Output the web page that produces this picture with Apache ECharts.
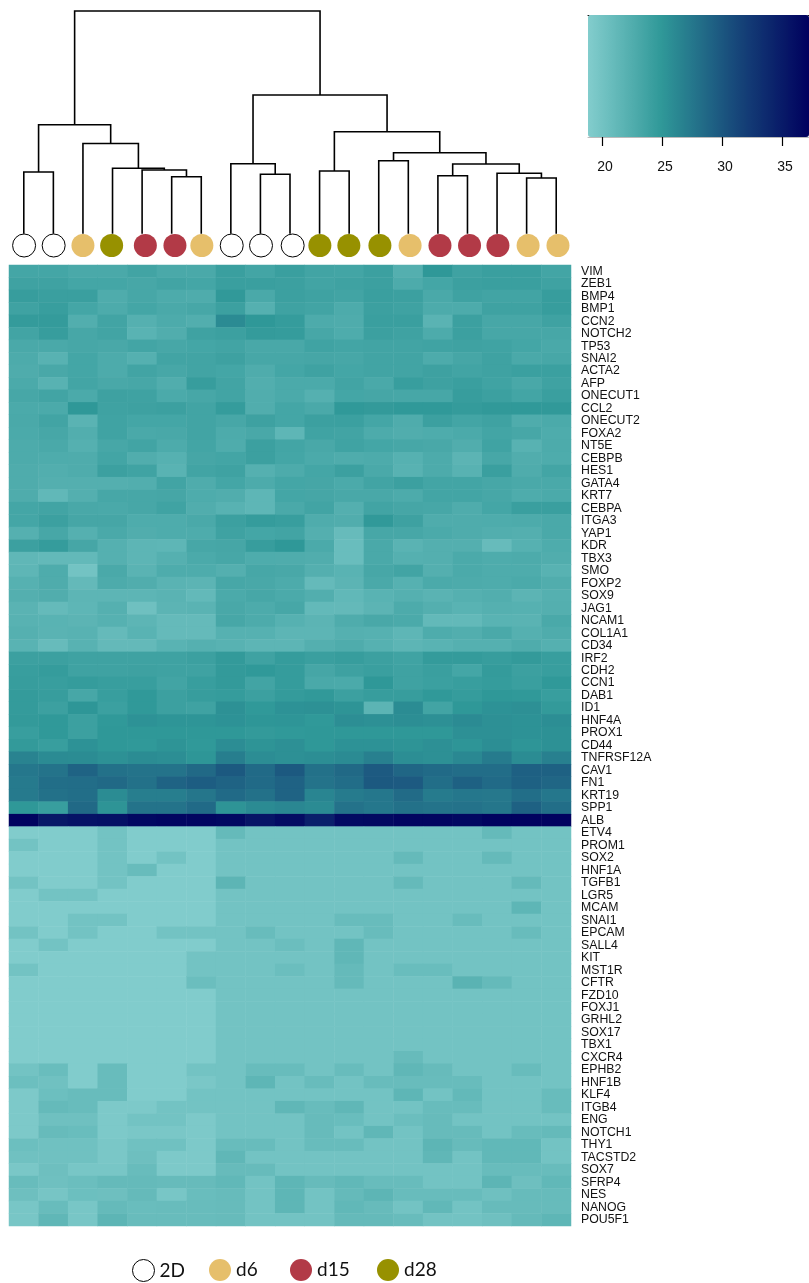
<!DOCTYPE html>
<html><head><meta charset="utf-8">
<style>html,body{margin:0;padding:0;background:#fff;overflow:hidden}#c{width:809px;height:1283px}</style>
<script src="https://cdn.jsdelivr.net/npm/echarts@6/dist/echarts.min.js"></script>
</head><body><div id="c"></div>
<script>
const genes=["VIM","ZEB1","BMP4","BMP1","CCN2","NOTCH2","TP53","SNAI2","ACTA2","AFP","ONECUT1","CCL2","ONECUT2","FOXA2","NT5E","CEBPB","HES1","GATA4","KRT7","CEBPA","ITGA3","YAP1","KDR","TBX3","SMO","FOXP2","SOX9","JAG1","NCAM1","COL1A1","CD34","IRF2","CDH2","CCN1","DAB1","ID1","HNF4A","PROX1","CD44","TNFRSF12A","CAV1","FN1","KRT19","SPP1","ALB","ETV4","PROM1","SOX2","HNF1A","TGFB1","LGR5","MCAM","SNAI1","EPCAM","SALL4","KIT","MST1R","CFTR","FZD10","FOXJ1","GRHL2","SOX17","TBX1","CXCR4","EPHB2","HNF1B","KLF4","ITGB4","ENG","NOTCH1","THY1","TACSTD2","SOX7","SFRP4","NES","NANOG","POU5F1"];
const sampleGroups=["2D","2D","d6","d28","d15","d15","d6","2D","2D","2D","d28","d28","d28","d6","d15","d15","d15","d6","d6"];
const groupNames=["2D","d6","d15","d28"];
const groupColors=["#ffffff","#E6BF6B","#B23A47","#979100"];
const leafPositions=[0.51,1.51,2.5,3.47,4.61,5.61,6.52,7.53,8.52,9.59,10.51,11.49,12.54,13.56,14.57,15.57,16.53,17.55,18.56];
const mergeLeft=[0,5,4,3,2,19,8,7,10,12,14,17,16,29,28,27,26,24];
const mergeRight=[1,6,20,21,22,23,9,25,11,13,15,18,30,31,32,33,34,35];
const mergeHeight=[61,56.3,63,64.7,89.5,108.3,58.7,69.3,62,72.3,57.3,55,59.7,69,80.3,101.3,138,222];
const colorTicks=[20,25,30,35];
const colorRange=[18.83,37.25];
const colorStops=["#83cdcd","#2f9898","#17487a","#00005e"];
const legendLeft=[132,209,290,377];
const expr=[
[23.4,23.4,23.0,23.0,23.6,23.0,23.0,24.2,23.5,24.2,23.6,23.5,24.0,22.3,25.0,23.8,24.2,24.2,23.5],
[23.8,23.8,23.4,23.4,23.2,23.6,23.4,24.2,24.2,24.0,23.6,23.8,24.0,22.8,23.4,24.0,24.2,24.2,23.8],
[24.4,24.2,24.2,22.6,23.2,22.8,22.6,24.8,23.0,24.0,23.8,23.6,24.2,24.0,23.0,23.8,23.6,23.6,24.4],
[23.8,24.3,23.4,22.8,23.4,23.0,23.2,24.0,22.2,23.8,23.6,22.8,24.0,23.8,22.8,22.8,23.8,23.8,24.4],
[24.6,24.6,22.4,23.6,22.2,22.8,22.4,26.0,25.0,24.5,22.8,22.6,24.2,24.2,21.8,24.0,23.2,23.2,23.8],
[23.6,24.4,23.2,23.6,21.9,22.5,23.8,24.0,24.6,24.5,23.2,22.7,24.0,23.8,22.8,24.0,23.2,23.2,23.2],
[23.0,23.0,23.2,23.1,23.5,23.2,23.4,23.6,23.1,23.1,23.7,23.5,23.6,23.6,23.7,23.8,23.7,23.4,23.0],
[22.8,22.0,23.4,22.8,22.2,23.6,23.6,23.9,23.2,23.2,23.3,23.2,23.6,23.6,22.8,23.3,23.8,23.0,23.2],
[22.6,23.1,23.4,22.8,23.6,23.2,23.6,23.4,22.6,23.4,23.8,23.4,23.6,23.6,23.9,23.6,23.8,24.1,24.1],
[22.9,22.0,23.5,23.1,23.2,22.5,24.4,23.6,22.4,22.9,22.9,23.6,23.0,24.3,23.9,24.2,23.7,23.1,23.8],
[23.2,23.6,22.9,23.9,23.8,22.9,23.2,23.6,22.5,22.9,22.2,23.4,23.3,23.2,23.2,24.4,24.0,23.5,24.2],
[22.9,22.9,25.0,23.8,23.9,24.0,23.6,24.5,22.5,23.4,23.0,24.9,24.7,24.9,24.9,24.6,24.8,24.9,24.8],
[23,23.6,21.8,23.7,23.4,23.4,23.6,23.2,23.9,23.4,24,24.1,23.4,22.6,24,23.5,23.8,22.6,22.9],
[22.9,23.2,22.4,23.7,23,23.1,23.6,22.8,23.1,21.5,23.7,23.6,22.8,22.5,22.7,22.9,23.5,23.2,22.7],
[22.8,23,22.2,23.2,23.6,22.8,23.5,22.6,24,23.5,23.1,23.7,23.4,23.2,23.1,22.5,23.7,22,22.8],
[22.8,22.7,22.6,23.5,22.5,22.1,23.3,23.5,24,23.4,22.9,22.6,22.8,22.1,22.8,21.7,23.2,22.5,22.7],
[22.6,22.4,22.6,24,23.7,21.9,23.6,23.8,22.2,22.8,23.4,24,23,22,22.8,22,24.2,22.6,23.5],
[22.6,22.3,22.3,22.3,22.4,23.6,22.6,23.4,22.8,23.4,23.3,22.9,23.6,24,23.5,23.5,23.2,23,23],
[22.6,21.3,22.3,23.2,23.2,23.3,22.7,22.5,21.5,23.4,23.3,23.1,23.1,22.8,23.5,23.5,23.2,22.7,22.9],
[23.4,23.6,23.1,23,23.2,23.7,22.5,22,21.5,23,23.6,22.3,23.6,23.3,23.2,22.6,23.4,24.2,24.2],
[23.4,24,23.3,23.3,22.7,22.7,23,24,24.5,24.3,22.6,22.5,24.8,23.9,22.6,22.6,22.7,22.8,23],
[22.2,23.2,22.2,23,22.5,22.7,22.7,23.8,23.4,23.6,22.3,20.9,23.2,23.2,22.9,22.6,22.4,22.3,23],
[24,24.5,23.3,22.2,21.6,21.5,23.2,23.3,24.4,25.0,22.9,20.7,23,21.8,22.3,22.3,20.9,22.1,22.7],
[21.4,21.2,21.2,22.2,21.6,22.2,22.9,23.2,22.7,22.6,22.5,20.7,23,22.2,22.3,22.9,22.7,22.8,22.5],
[21.5,22.7,20,23,21.8,22.7,22.7,22.3,23.2,23.1,22.3,21.9,23.2,23.6,22.3,22.9,22.7,22.7,22],
[22.1,22.6,21.1,22.8,22.5,21.8,21.7,23.2,23.1,22.8,21,21.7,23,22.1,22.9,22.8,22.7,22.9,22.5],
[22.3,22.5,21.6,21.6,21.6,21.8,21.2,22.9,23.2,22.9,22.4,21.3,21.9,22.2,21.8,22.2,22.4,21.7,22.2],
[21.8,21,21.5,22.2,20.3,21.7,21.8,23.1,22.8,23.2,21.2,21.1,21.7,22.8,22.3,21.9,22.2,22.1,22.3],
[22,21.9,21.7,22.1,21.6,21,21,23.2,22.8,22.1,21.7,22.6,23.1,22.9,21.2,21.2,21.9,21.8,23],
[22.2,21.8,22,21,21.9,21,21,22.1,22.1,21.6,21.6,22.2,22.1,21.5,22.7,22.4,23,22.2,22.6],
[21.9,20.9,22,21.1,21.1,21.9,22.2,22,21.6,21.6,22.3,22.6,22.1,21.6,21.9,22.2,22.2,22.6,22.2],
[24,24,23.8,23.8,23.8,23.8,24,24.7,23.8,24.5,24.2,24.4,24,23.7,24.6,24.6,24.4,24.7,24.3],
[24.3,24.5,23.8,23.8,23.9,23.8,23.8,24.7,24.9,24.5,23.3,23.9,24.2,23.8,24.2,23.4,24.6,24,24.3],
[24.4,24.3,24.5,24.3,24.3,23.6,24.3,24.7,23.6,24.5,23,22.9,25,23.8,24.1,24.3,24.5,24.2,24.9],
[24.6,24.4,23.2,24.3,24.9,24,24.4,24.5,24,24.6,24.8,24,24.4,24.4,24.9,24.5,25,24.9,24.3],
[24.6,24,25.1,24.1,24.9,24,23.8,25.5,24.9,25.4,25.5,25.3,21.7,25.9,23.6,25,25.4,25.6,24.7],
[24.7,24.9,24,24.9,25.4,25.2,25.2,25.4,25.1,25.2,24.9,25.7,25.6,25.7,25.6,26,25.6,25.4,25.7],
[24.3,24.9,24,25,25,25,25,25,24.7,24.9,25,25,25,25,25,25.6,25.6,25.4,25.5],
[24.7,24.3,25.4,25,24.9,25.3,24.9,25.8,25.3,25.6,25,25.4,25.4,25.3,25.6,25.2,25.7,25.2,25.5],
[26.6,26,25.9,25.5,25.9,25.7,25.1,27,25.8,25.6,25.7,26,26.8,25.7,25.6,26.2,27.2,25.9,26.8],
[27.5,27.8,29,28,27.8,27.8,28.6,29.8,28.5,29.8,28,28.6,29.7,28.8,28.5,28.3,28.3,29.3,29.2],
[27.3,28.2,28.3,28.6,28,29,29.5,29,28.5,29.1,27.8,28.3,29.8,29.7,28.2,29.2,28.5,29.2,28.8],
[27.3,28,28.2,25.9,27,27,27.6,28.5,28,29,26.4,27.2,27.5,28.4,27.2,27.5,27.4,28.2,27.5],
[25,24.3,28.6,25.3,27.8,27.8,28.5,25.3,26,26.3,26,27.9,27.5,28,27.8,27.9,27.6,29.2,28.2],
[37,35.2,35.6,35.8,36.6,36.8,36.8,36.6,35.5,36.2,34.5,36.4,36.5,36.8,36.8,36.6,37.1,37.1,37.1],
[19,19,19,20,19,19,19,21,20,20,20,20,20,20,20,20,21,20,20],
[20,19,19,20,19,19,19,20,20,20,20,20,20,20,20,20,20,20,20],
[19,19,19,20,19,20,19,20,20,20,20,20,20,21,20,20,21,20,20],
[19,19,19,20,20.8,19,19,20,20,20,20,20,20,20,20,20,20,20,20],
[20,19,19,20,19,19,19,21.6,20,20,20,20,20,21,20,20,20,21,20],
[19,20,20,19,19,19,19,20,20,20,20,20,20,20,20,20,20,20,20],
[19,19,19,19,19,19,19,20,20,20,20,20,20,20,20,20,20,21.5,20],
[19,19,20,20,19,19,19,20,20,20,20,20.8,20.8,20,20,20.8,20,20,20],
[20,19,20,19,19,20,20,20,20.8,20,20,20,20.8,20,20,20,20,20.8,20],
[19,20,19,19,19,19,19,20,20,20.6,20,21.4,20,20,20,20,20,20,20],
[19,19,19,19,19,19,20,20,20,20,20,21.4,20,20,20,20,20,20,20],
[20,19,19,19,19,19,20,20,20,20.6,20,21,20,20.7,20.7,20,20,20,20],
[19,19,19,19,19,19,20.6,20,20,20,20,21,20,20,20,21.8,21,20,20],
[19,19,19,19,19,19,19,20,20,20,20,20,20,20,20,20,20,20,20],
[19,19,19,19,19,19,19,20,20,20,20,20,20,20,20,20,20,20,20],
[19,19,19,19,19,19,19,20,20,20,20,20,20,20,20,20,20,20,20],
[19,19,19,19,19,19,19,20,20,20,20,20,20,20,20,20,20,20,20],
[19,19,19,19,19,19,19,20,20,20,20,20,20,20,20,20,20,20,20],
[19,19,19,19,19,19,19,20,20,20,20,20,20,20.9,20,20,20,20,20],
[20,20.7,19,20.8,19,19,20,20,20.8,20.8,20,20.8,20,21.4,20.9,20,20,20.8,20],
[20.5,20.2,19,20.8,19,19,19.5,20,21.5,20,20.8,20,20.8,20.8,20.8,20.8,20,20,20],
[19.3,20.5,20.8,20.8,19,19,20,20,20,20,20,20,20,21.5,20,21.2,20,20,20.8],
[19.3,21,20.8,19.3,19.3,20,20,20,20,21.4,20.8,21.4,20,20,20.8,20.8,20,20,20.8],
[19.3,20.3,20.3,19.3,20,20,19.3,20,20,20,20.9,20.7,20,20.6,20.9,20,20,20,20],
[19.3,20.9,20.7,19.3,19.5,19.5,19.3,20,20,20,20.9,20,21.4,20,20.9,20.9,20,20.8,21],
[20.5,20.2,20.2,19.5,20.2,20.2,19.3,20.8,20.8,20,20.8,20.8,20,20,21.6,20.9,21.3,21.3,20],
[20.2,20.2,20.2,19.5,20.4,19.3,19.3,21.4,20,20,20,20,20,20,21.4,20,21.3,21.3,20],
[19.5,20.4,19.6,19.6,20.8,19.3,19.3,20.9,20.9,20,20,20,20,20,20,20,20.8,20.8,20.8],
[20.8,20.3,20.6,21,21,20.9,20.9,21.3,20,21.5,20.9,21.3,20.8,20.8,20,20,21.6,20.4,21.3],
[20.4,19.7,20.5,20.4,21,19.6,20.7,20.9,20,21.5,20,21,21.6,20.8,20.8,20.8,20.3,20.9,20.9],
[19.6,20.8,19.6,21,20.7,20.8,20.8,20.9,20,21.5,20,21.3,20.9,20,21.3,20,20.9,20.9,20.9],
[19.6,21.4,19.6,21.6,20.8,20.8,20.8,20.9,20,20,20,21,21,20.8,20,20,20.3,21,21.5]
];

const heatData=[];
expr.forEach((row,r)=>row.forEach((v,c)=>heatData.push([c,r,v])));

const nodeX={},nodeH={};
sampleGroups.forEach((g,i)=>{nodeX[i]=i+0.5;nodeH[i]=0;});
const dendroLine=[];
mergeLeft.forEach((a,i)=>{
  const b=mergeRight[i],h=mergeHeight[i],id=19+i;
  dendroLine.push([nodeX[a],nodeH[a]],[nodeX[a],h],[nodeX[b],h],[nodeX[b],nodeH[b]],[null,null]);
  nodeX[id]=(nodeX[a]+nodeX[b])/2;nodeH[id]=h;
});
const LEAF_Y=-12.5;
const groupSeries=groupNames.map((n,gi)=>({
  name:n,type:'scatter',xAxisIndex:1,yAxisIndex:1,symbol:'circle',symbolSize:23,
  itemStyle:{color:groupColors[gi],borderColor:n==='2D'?'#000':groupColors[gi],borderWidth:n==='2D'?1:0,opacity:1},
  data:sampleGroups.map((g,i)=>g===n?[leafPositions[i],LEAF_Y]:null).filter(Boolean),
  silent:true,z:5
}));

const chart=echarts.init(document.getElementById('c'),null,{renderer:'canvas'});
chart.setOption({
  animation:false,backgroundColor:'#fff',
  grid:[
    {left:9,top:265,width:562,height:961,containLabel:false},
    {left:9,top:11,width:562,height:249},
    {left:588,top:15,width:221,height:122}
  ],
  xAxis:[
    {gridIndex:0,type:'category',data:sampleGroups.map((g,i)=>i),show:false},
    {gridIndex:1,type:'value',min:0,max:19,show:false},
    {gridIndex:2,type:'value',min:colorRange[0],max:colorRange[1],position:'bottom',
      splitLine:{show:false},
      axisLine:{show:true,lineStyle:{color:'#bbb',width:1}},
      axisTick:{show:true,length:9,customValues:colorTicks,lineStyle:{color:'#000',width:1.2}},
      axisLabel:{show:true,margin:23,customValues:colorTicks,padding:[0,0,0,6],color:'#111',fontFamily:'Liberation Sans',fontSize:14}},
    {gridIndex:2,type:'value',min:colorRange[0],max:colorRange[1],position:'top',
      splitLine:{show:false},axisTick:{show:false},axisLabel:{show:false},
      axisLine:{show:true,lineStyle:{color:'#000',width:1}}}
  ],
  yAxis:[
    {gridIndex:0,type:'category',inverse:true,data:genes,position:'right',
      axisLine:{show:false},axisTick:{show:false},splitLine:{show:false},
      axisLabel:{interval:0,margin:10,color:'#111',fontFamily:'Liberation Sans',fontSize:12.3,padding:[0,0,2,0]}},
    {gridIndex:1,type:'value',min:-27,max:222,show:false},
    {gridIndex:2,type:'value',min:0,max:1,show:false}
  ],
  visualMap:{type:'continuous',seriesIndex:0,min:colorRange[0],max:colorRange[1],calculable:false,
    orient:'horizontal',left:588,top:15,padding:0,itemWidth:122,itemHeight:221,text:null,showLabel:false,
    inRange:{color:colorStops},hoverLink:false},
  legend:groupNames.map((n,i)=>({data:[n],left:legendLeft[i],top:1259,padding:0,itemWidth:22,itemHeight:22,icon:'circle',selectedMode:false,
    itemStyle:{borderWidth:n==='2D'?1:0},
    textStyle:{fontFamily:'Lato',fontSize:19,color:'#111'}})),
  series:[
    {type:'heatmap',xAxisIndex:0,yAxisIndex:0,data:heatData,silent:true,progressive:0,itemStyle:{borderWidth:0}},
    {type:'line',xAxisIndex:1,yAxisIndex:1,data:dendroLine,symbol:'none',clip:false,connectNulls:false,silent:true,
      lineStyle:{color:'#000',width:1.6,cap:'square',join:'miter'}},
    ...groupSeries
  ]
});
</script></body></html>
